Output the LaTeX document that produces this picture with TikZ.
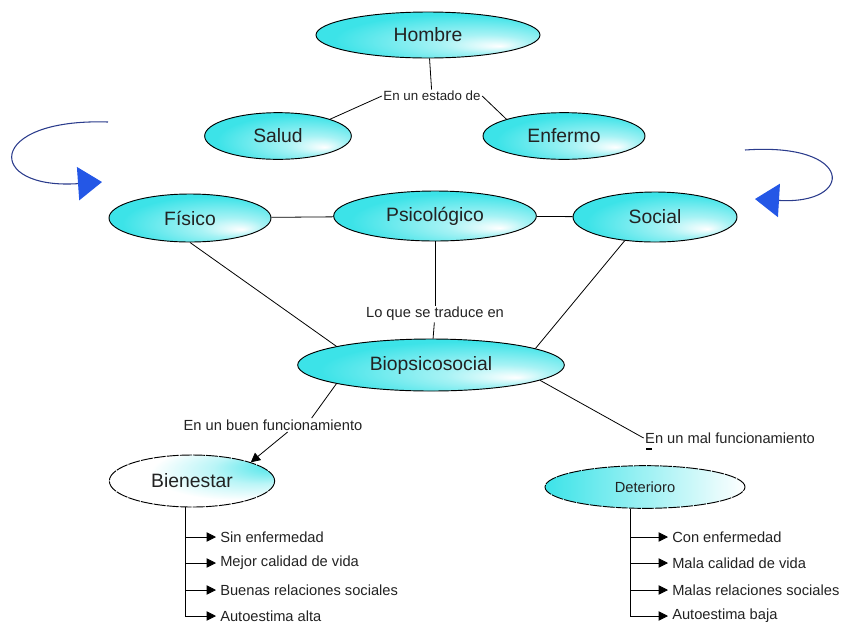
\documentclass[tikz,border=0pt]{standalone}
\usepackage{fontspec}
\setmainfont{Liberation Sans}
\usetikzlibrary{arrows.meta, positioning, shapes.geometric}
\definecolor{celeste}{HTML}{3CE3E8}
\definecolor{azul}{HTML}{2457E6}
\definecolor{azuloscuro}{HTML}{2B3C8C}
\definecolor{texto}{HTML}{222222}
\pgfdeclareradialshading{brillo}{\pgfpoint{16bp}{-12bp}}{color(0bp)=(white); color(10bp)=(celeste!45); color(28bp)=(celeste); color(50bp)=(celeste)}
\pgfdeclareradialshading{bienes}{\pgfpoint{28bp}{16bp}}{color(0bp)=(celeste); color(14bp)=(celeste!35); color(26bp)=(white); color(50bp)=(white)}

\begin{document}
\begin{tikzpicture}[x=0.75pt, y=-0.75pt, text=texto,
      elip/.style={ellipse, draw, line width=0.7pt, shading=brillo, inner sep=0pt,
                   font=\fontsize{14.5}{16}\selectfont},
      etiq/.style={inner sep=1pt, font=\fontsize{10}{12}\selectfont},
      item/.style={anchor=west, inner sep=3pt, font=\fontsize{11}{13}\selectfont},
      lin/.style={line width=0.6pt},
      punta/.style={-{Triangle[length=7pt, width=7pt]}, line width=0.6pt},
      giro/.style={azuloscuro, line width=0.8pt,
                   -{Triangle[length=18pt, width=25pt, fill=azul, color=azul]}}]
  \useasboundingbox (0,0) rectangle (867,626);

  \node[elip, minimum width=168pt, minimum height=34.5pt] (hombre) at (428,35) {Hombre};
  \node[etiq] (estado) at (432,96) {En un estado de};
  \node[elip, minimum width=110pt, minimum height=35pt] (salud) at (278,136) {Salud};
  \node[elip, minimum width=121.5pt, minimum height=35pt] (enfermo) at (564,136) {Enfermo};
  \draw[lin] (hombre) -- (estado);
  \draw[lin] (estado.west) -- (salud.north east);
  \draw[lin] (estado.east) -- (enfermo.north west);

  \draw[giro] (108,122) .. controls (-15,118) and (-15,190) .. (102,182);
  \draw[giro] (745,150) .. controls (855,142) and (855,205) .. (755,199);

  \node[elip, minimum width=121.5pt, minimum height=36pt] (fisico) at (190,218) {Físico};
  \node[elip, minimum width=152pt, minimum height=37.5pt] (psico) at (435,216) {Psicológico};
  \node[elip, minimum width=123pt, minimum height=37.5pt] (social) at (655,217) {Social};
  \draw[lin] (fisico) -- (psico);
  \draw[lin] (psico) -- (social);

  \node[etiq, font=\fontsize{11}{13}\selectfont] (traduce) at (435,314) {Lo que se traduce en};
  \node[elip, minimum width=200pt, minimum height=39pt] (bio) at (431,365) {Biopsicosocial};
  \draw[lin] (psico) -- (traduce);
  \draw[lin] (traduce) -- (bio);
  \draw[lin] (fisico.south) -- (bio.north west);
  \draw[lin] (social.-142) -- (bio.9);

  \node[etiq, font=\fontsize{11}{13}\selectfont] (buen) at (273,425) {En un buen funcionamiento};
  \node[etiq, font=\fontsize{11}{13}\selectfont] (mal) at (730,438) {En un mal funcionamiento};
  \node[elip, shading=bienes, dash pattern=on 9pt off 0.8pt, minimum width=124pt, minimum height=39pt] (bien) at (192,481) {Bienestar};
  \node[elip, shading=axis, left color=celeste, right color=white, dash pattern=on 9pt off 0.8pt,
        minimum width=150pt, minimum height=32pt, font=\fontsize{11}{13}\selectfont] (det) at (645,487) {Deterioro};
  \draw[lin] (bio.south west) -- ([xshift=29pt]buen.north);
  \draw[punta] ([xshift=11pt]buen.south) -- (bien.north east);
  \draw[lin] (bio.-8) -- (mal.west);
  \draw[line width=1.3pt] ([xshift=2pt, yshift=-3pt]mal.south west) -- ++(6,0);

  \foreach \n/\y/\t in {1/537/Sin enfermedad, 2/563/Mejor calidad de vida,
                        3/590/Buenas relaciones sociales, 4/616/Autoestima alta}
    \node[item] (b\n) at (216,\y) {\t};
  \foreach \n/\y/\t in {1/537/Con enfermedad, 2/563/Mala calidad de vida,
                        3/590/Malas relaciones sociales, 4/616/Autoestima baja}
    \node[item] (d\n) at (668,\y) {\t};

  \coordinate (bt) at ([xshift=-5pt]bien.south);
  \coordinate (dt) at ([xshift=-11pt]det.south);
  \draw[lin] (bt) -- (bt |- b4.west);
  \draw[lin] (dt) -- (dt |- d4.west);
  \foreach \n in {1,...,4} {
    \draw[punta] (bt |- b\n.west) -- (b\n.west);
    \draw[punta] (dt |- d\n.west) -- (d\n.west);
  }
\end{tikzpicture}
\end{document}
